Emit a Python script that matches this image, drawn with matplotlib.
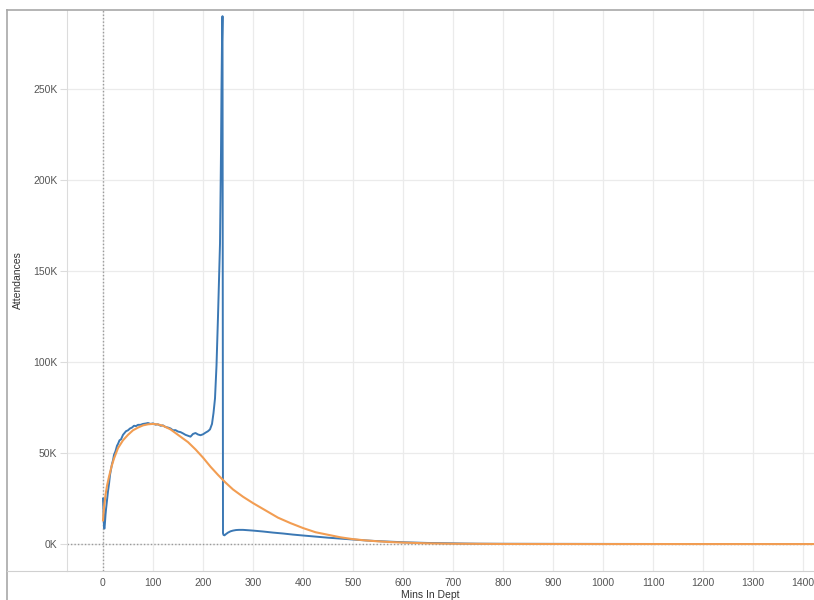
import matplotlib
matplotlib.use("Agg")
import matplotlib.pyplot as plt
from matplotlib.lines import Line2D
from matplotlib.ticker import FuncFormatter, MultipleLocator

# Observed attendances by minutes in department (values in thousands)
blue_mins = [0, 1, 2, 3, 4, 5, 6, 8, 10, 12, 14, 16, 18, 20, 22, 25, 28, 30, 33, 36,
             40, 43, 46, 50, 54, 58, 62, 66, 70, 75, 80, 85, 90, 95, 100, 105, 110, 115,
             120, 125, 130, 135, 140, 145, 150, 155, 160, 165, 170, 175, 180, 185, 190,
             195, 200, 205, 210, 214, 218, 221, 224, 227, 230, 232, 234, 236, 237, 238,
             239, 240, 241, 243, 246, 250, 255, 260, 266, 272, 280, 290, 300, 320, 340,
             360, 380, 400, 425, 450, 475, 500, 525, 550, 575, 600, 625, 650, 675, 700,
             720, 750, 800, 900, 1000, 1100, 1200, 1300, 1440]
blue_k = [25, 18, 9, 8.5, 12, 16, 19, 24, 29, 33, 38, 41, 44, 46, 49, 51, 54, 55, 57, 57.5,
          60, 61, 62, 62.5, 63.5, 64, 65, 64.8, 65.5, 65.5, 66, 66.2, 66.5, 66, 66.3, 65.6,
          65.8, 65, 65.2, 64.3, 64, 63.5, 62.5, 62.6, 61.8, 61.5, 60.8, 60, 59.5, 59, 60.5,
          61, 60.2, 59.8, 60.3, 61.2, 62, 63, 66, 72, 80, 98, 125, 145, 165, 215, 250, 275,
          290, 6, 5, 4.8, 5.5, 6.3, 7, 7.4, 7.7, 7.8, 7.8, 7.6, 7.4, 6.9, 6.3,
          5.8, 5.2, 4.7, 4.1, 3.5, 3.0, 2.5, 2.0, 1.6, 1.3, 1.0, 0.8, 0.6, 0.5, 0.4,
          0.3, 0.2, 0.15, 0.1, 0.08, 0.05, 0.04, 0.03, 0.02]

# Fitted curve
orange_mins = [0, 2, 5, 8, 12, 17, 22, 30, 40, 50, 60, 70, 80, 90, 100, 110, 120, 135,
               150, 170, 185, 200, 215, 230, 245, 260, 280, 300, 325, 350, 375, 400, 425,
               450, 475, 500, 525, 550, 575, 600, 650, 700, 800, 1000, 1440]
orange_k = [13, 20, 27, 32, 37, 42.5, 47, 52.7, 57, 60, 62.5, 64, 65.2, 65.8, 66, 65.7,
            65, 63, 60, 56, 52, 47.5, 42.5, 38, 33.8, 30, 26, 22.5, 18.5, 14.5, 11.5, 8.8,
            6.5, 5.1, 3.7, 2.7, 2.0, 1.5, 1.1, 0.8, 0.4, 0.2, 0.05, 0.01, 0.0]

blue_vals = [v * 1000 for v in blue_k]
orange_vals = [v * 1000 for v in orange_k]

fig = plt.figure(figsize=(8.14, 6.0), dpi=100)
ax = fig.add_axes([67 / 814, 1 - 571 / 600, 1 - 67 / 814, (571 - 10) / 600])

ax.plot(blue_mins, blue_vals, color="#3b78b4", lw=1.4, zorder=3)
ax.plot(orange_mins, orange_vals, color="#f29d52", lw=1.5, zorder=4)

ax.set_xlim(-72, 1422)
ax.set_ylim(-14800, 293400)

ax.xaxis.set_major_locator(MultipleLocator(100))
ax.yaxis.set_major_locator(MultipleLocator(50000))
ax.yaxis.set_major_formatter(FuncFormatter(lambda v, p: f"{int(v / 1000)}K"))

ax.grid(True, color="#ebebeb", lw=0.9, zorder=0)
ax.axvline(0, color="#9a9a9a", lw=1.0, ls=(0, (1, 1.5)), zorder=2)
ax.axhline(0, color="#9a9a9a", lw=1.0, ls=(0, (1, 1.5)), zorder=2)

for s in ["top", "right"]:
    ax.spines[s].set_visible(False)
ax.spines["left"].set_color("#dcdcdc")
ax.spines["bottom"].set_color("#d0d0d0")

ax.tick_params(axis="y", length=5, color="#dcdcdc", labelsize=7.5, labelcolor="#555555", pad=2)
ax.tick_params(axis="x", length=0, labelsize=7.5, labelcolor="#555555", pad=5)
for lab in ax.get_xticklabels() + ax.get_yticklabels():
    lab.set_family("Liberation Sans")

fig.text(18 / 814, 1 - 280 / 600, "Attendances", rotation=90, ha="center", va="center",
         fontsize=7.5, color="#333333", family="Liberation Sans")
fig.text(430 / 814, 0.5 / 600, "Mins In Dept", ha="center", va="bottom",
         fontsize=7.5, color="#333333", family="Liberation Sans")

# worksheet frame
fig.add_artist(Line2D([7 / 814, 7 / 814], [0, 1 - 10 / 600], color="#a8a8a8", lw=1.2))
fig.add_artist(Line2D([7 / 814, 1], [1 - 10 / 600, 1 - 10 / 600], color="#a8a8a8", lw=1.2))
fig.add_artist(Line2D([7 / 814, 67 / 814], [1 - 571 / 600, 1 - 571 / 600], color="#d0d0d0", lw=0.8))

plt.savefig("out.png", dpi=100)
plt.close()
